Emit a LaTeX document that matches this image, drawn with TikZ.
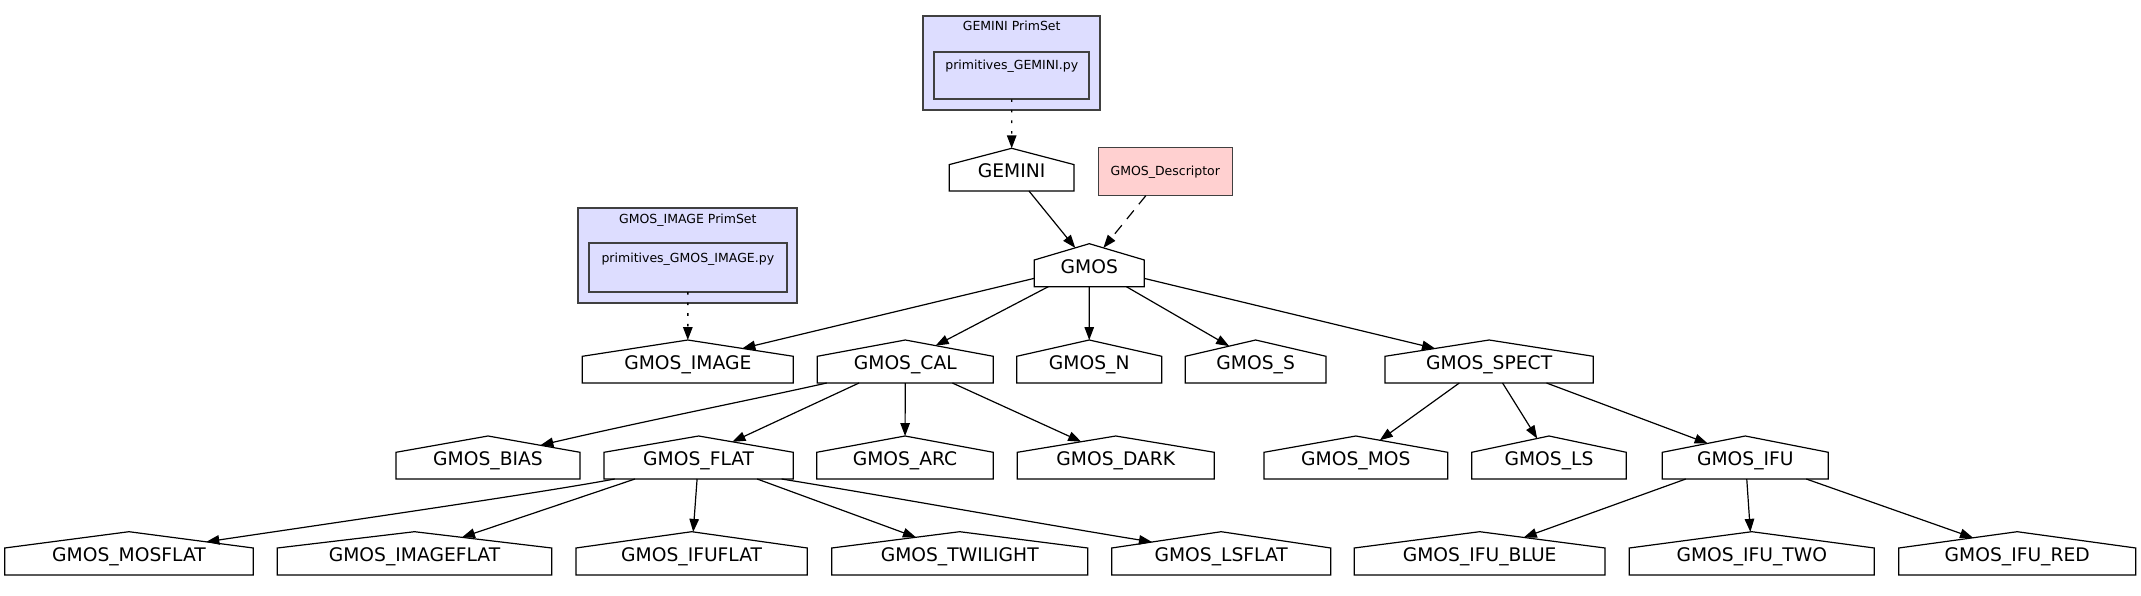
\documentclass[tikz,border=0pt]{standalone}
\usepackage{fontspec}
\setmainfont{DejaVu Sans}
\usetikzlibrary{arrows.meta,calc}
\makeatletter
\pgfkeys{/pgf/house roof/.initial=16.3pt}
\pgfdeclareshape{gvhouse}{%
  \inheritsavedanchors[from=rectangle]%
  \inheritanchor[from=rectangle]{center}%
  \inheritanchor[from=rectangle]{north}%
  \inheritanchor[from=rectangle]{south}%
  \inheritanchor[from=rectangle]{east}%
  \inheritanchor[from=rectangle]{west}%
  \inheritanchor[from=rectangle]{north east}%
  \inheritanchor[from=rectangle]{north west}%
  \inheritanchor[from=rectangle]{south east}%
  \inheritanchor[from=rectangle]{south west}%
  \inheritanchor[from=rectangle]{text}%
  \inheritanchor[from=rectangle]{base}%
  \inheritanchor[from=rectangle]{mid}%
  \savedmacro\gvroof{%
    \pgfmathsetlength\pgf@xa{\pgfkeysvalueof{/pgf/house roof}}%
    \edef\gvroof{\the\pgf@xa}%
  }%
  \backgroundpath{%
    \pgf@process{\southwest}\pgf@xa=\pgf@x \pgf@ya=\pgf@y
    \pgf@process{\northeast}\pgf@xb=\pgf@x \pgf@yb=\pgf@y
    \pgf@yc=\pgf@yb \advance\pgf@yc by -\gvroof\relax
    \pgf@xc=.5\pgf@xa \advance\pgf@xc by .5\pgf@xb
    \pgfpathmoveto{\pgfqpoint{\pgf@xa}{\pgf@ya}}%
    \pgfpathlineto{\pgfqpoint{\pgf@xb}{\pgf@ya}}%
    \pgfpathlineto{\pgfqpoint{\pgf@xb}{\pgf@yc}}%
    \pgfpathlineto{\pgfqpoint{\pgf@xc}{\pgf@yb}}%
    \pgfpathlineto{\pgfqpoint{\pgf@xa}{\pgf@yc}}%
    \pgfpathclose
  }%
  \anchorborder{%
    \edef\gv@dx{\the\pgf@x}\edef\gv@dy{\the\pgf@y}%
    \pgf@process{\southwest}\pgf@xa=\pgf@x \pgf@ya=\pgf@y
    \pgf@process{\northeast}%
    \advance\pgf@x by-\pgf@xa \advance\pgf@y by-\pgf@ya
    \pgf@xb=.5\pgf@x \pgf@yb=.5\pgf@y
    \advance\pgf@xa by\pgf@xb \advance\pgf@ya by\pgf@yb
    \edef\gv@cx{\the\pgf@xa}\edef\gv@cy{\the\pgf@ya}%
    \edef\gv@a{\the\pgf@xb}\edef\gv@b{\the\pgf@yb}%
    \pgf@yc=\pgf@yb \advance\pgf@yc by-\gvroof\relax
    \edef\gv@s{\the\pgf@yc}%
    \pgfpointborderrectangle{\pgfqpoint{\gv@dx}{\gv@dy}}{\pgfqpoint{\gv@a}{\gv@b}}%
    \ifdim\pgf@y>\gv@s\relax
      \ifdim\gv@dx<0pt
        \pgfpointintersectionoflines{\pgfpointorigin}{\pgfqpoint{\gv@dx}{\gv@dy}}%
          {\pgfqpoint{-\gv@a}{\gv@s}}{\pgfqpoint{0pt}{\gv@b}}%
      \else
        \pgfpointintersectionoflines{\pgfpointorigin}{\pgfqpoint{\gv@dx}{\gv@dy}}%
          {\pgfqpoint{\gv@a}{\gv@s}}{\pgfqpoint{0pt}{\gv@b}}%
      \fi
    \fi
    \pgf@xa=\gv@cx\relax \pgf@ya=\gv@cy\relax
    \advance\pgf@x by\pgf@xa \advance\pgf@y by\pgf@ya
  }%
}
\makeatother
\newcommand\gvmainfont{\fontsize{18.7pt}{22pt}\selectfont}
\newcommand\gvsmallfont{\fontsize{12.5pt}{15pt}\selectfont}
\definecolor{clusterfill}{HTML}{DDDDFF}
\definecolor{descfill}{HTML}{FFD0D0}
\definecolor{gvborder}{HTML}{404040}
\tikzset{
  house/.style={shape=gvhouse, draw=black, fill=white, line width=1.2pt,
    inner sep=0pt, outer sep=0pt, minimum height=43pt, minimum width=#1,
    text height=15.6pt, text depth=0pt, font=\gvmainfont},
  cluster/.style={draw=gvborder, fill=clusterfill, line width=1.7pt, inner sep=0pt, outer sep=0pt},
  filebox/.style={draw=gvborder, fill=clusterfill, line width=1.7pt, inner sep=0pt, outer sep=0pt},
  desc/.style={draw=gvborder, fill=descfill, line width=1.4pt, inner sep=0pt, outer sep=0pt,
    text height=7.3pt, text depth=0pt, font=\gvsmallfont},
  smalltext/.style={inner sep=0pt, font=\gvsmallfont},
  edge/.style={line width=1.2pt, -{Triangle[length=13pt,width=9.5pt]}},
  dotedge/.style={edge, line width=1.4pt, dash pattern=on 2.6pt off 8pt},
  dashedge/.style={edge, dash pattern=on 11pt off 8pt},
}
\begin{document}
\begin{tikzpicture}[x=1pt,y=-1pt]
\useasboundingbox (0,0) rectangle (2141,596);
% clusters
\node[cluster, minimum width=176.7pt, minimum height=94.3pt] (gemset) at (1011.65,62.85) {};
\node[smalltext, anchor=base] (gemsettitle) at (1011.65,31) {GEMINI PrimSet};
\node[filebox, minimum width=155pt, minimum height=47.6pt] (gemfile) at (1011.8,75.5) {};
\node[smalltext, anchor=base] (gemfiletext) at (1011.8,69.4) {primitives\_GEMINI.py};
\node[cluster, minimum width=219pt, minimum height=95pt] (imgset) at (687.8,255.2) {};
\node[smalltext, anchor=base] (imgsettitle) at (687.8,223.3) {GMOS\_IMAGE PrimSet};
\node[filebox, minimum width=197.7pt, minimum height=48.7pt] (imgfile) at (687.85,267.65) {};
\node[smalltext, anchor=base] (imgfiletext) at (687.85,262.3) {primitives\_GMOS\_IMAGE.py};
% row 2
\node[house=124.7pt, minimum height=42.7pt] (GEMINI) at (1011.65,169.65) {GEMINI};
\node[desc, minimum width=134pt, minimum height=48pt] (DESC) at (1165.3,171.7) {GMOS\_Descriptor};
% row 3
\node[house=110pt] (GMOS) at (1089.3,265.2) {GMOS};
% row 4
\node[house=211pt] (IMAGE) at (687.8,361.5) {GMOS\_IMAGE};
\node[house=176pt] (CAL) at (905.3,361.5) {GMOS\_CAL};
\node[house=145pt] (N) at (1089.2,361.5) {GMOS\_N};
\node[house=140.7pt] (S) at (1255.65,361.5) {GMOS\_S};
\node[house=208.3pt] (SPECT) at (1489.15,361.5) {GMOS\_SPECT};
% row 5
\node[house=184pt] (BIAS) at (488,457.5) {GMOS\_BIAS};
\node[house=189.3pt] (FLAT) at (698.65,457.5) {GMOS\_FLAT};
\node[house=176.6pt] (ARC) at (905,457.5) {GMOS\_ARC};
\node[house=197pt] (DARK) at (1115.8,457.5) {GMOS\_DARK};
\node[house=183.7pt] (MOS) at (1355.85,457.5) {GMOS\_MOS};
\node[house=154.6pt] (LS) at (1549,457.5) {GMOS\_LS};
\node[house=166pt] (IFU) at (1745.3,457.5) {GMOS\_IFU};
% row 6
\node[house=248.6pt, minimum height=43.3pt] (MOSFLAT) at (129,553.35) {GMOS\_MOSFLAT};
\node[house=274.4pt, minimum height=43.3pt] (IMAGEFLAT) at (414.5,553.35) {GMOS\_IMAGEFLAT};
\node[house=231.3pt, minimum height=43.3pt] (IFUFLAT) at (691.65,553.35) {GMOS\_IFUFLAT};
\node[house=256pt, minimum height=43.3pt] (TWILIGHT) at (959.7,553.35) {GMOS\_TWILIGHT};
\node[house=219pt, minimum height=43.3pt] (LSFLAT) at (1221.2,553.35) {GMOS\_LSFLAT};
\node[house=250.7pt, minimum height=43.3pt] (IFUBLUE) at (1479.65,553.35) {GMOS\_IFU\_BLUE};
\node[house=245pt, minimum height=43.3pt] (IFUTWO) at (1751.8,553.35) {GMOS\_IFU\_TWO};
\node[house=237pt, minimum height=43.3pt] (IFURED) at (2017.2,553.35) {GMOS\_IFU\_RED};
% edges
\draw[dotedge] (gemfile) -- (GEMINI);
\draw[dotedge] (imgfile) -- (IMAGE);
\draw[edge] (GEMINI) -- (GMOS);
\draw[dashedge] (DESC) -- (GMOS);
\draw[edge] (GMOS) -- (IMAGE);
\draw[edge] (GMOS) -- (CAL);
\draw[edge] (GMOS) -- (N);
\draw[edge] (GMOS) -- (S);
\draw[edge] (GMOS) -- (SPECT);
\draw[edge] ($(CAL.south)+(-78.6,0)$) .. controls (760,398) and (640,422) .. (BIAS);
\draw[edge] (CAL) -- (FLAT);
\draw[edge] (CAL) -- (ARC);
\draw[edge] (CAL) -- (DARK);
\draw[edge] (SPECT) -- (MOS);
\draw[edge] (SPECT) -- (LS);
\draw[edge] (SPECT) -- (IFU);
\draw[edge] ($(FLAT.south)+(-84,0)$) .. controls (540,493) and (330,523.4) .. (MOSFLAT);
\draw[edge] (FLAT) -- (IMAGEFLAT);
\draw[edge] (FLAT) -- (IFUFLAT);
\draw[edge] (FLAT) -- (TWILIGHT);
\draw[edge] ($(FLAT.south)+(83,0)$) .. controls (880,495) and (1030,522) .. (LSFLAT);
\draw[edge] (IFU) -- (IFUBLUE);
\draw[edge] (IFU) -- (IFUTWO);
\draw[edge] (IFU) -- (IFURED);
\end{tikzpicture}
\end{document}
